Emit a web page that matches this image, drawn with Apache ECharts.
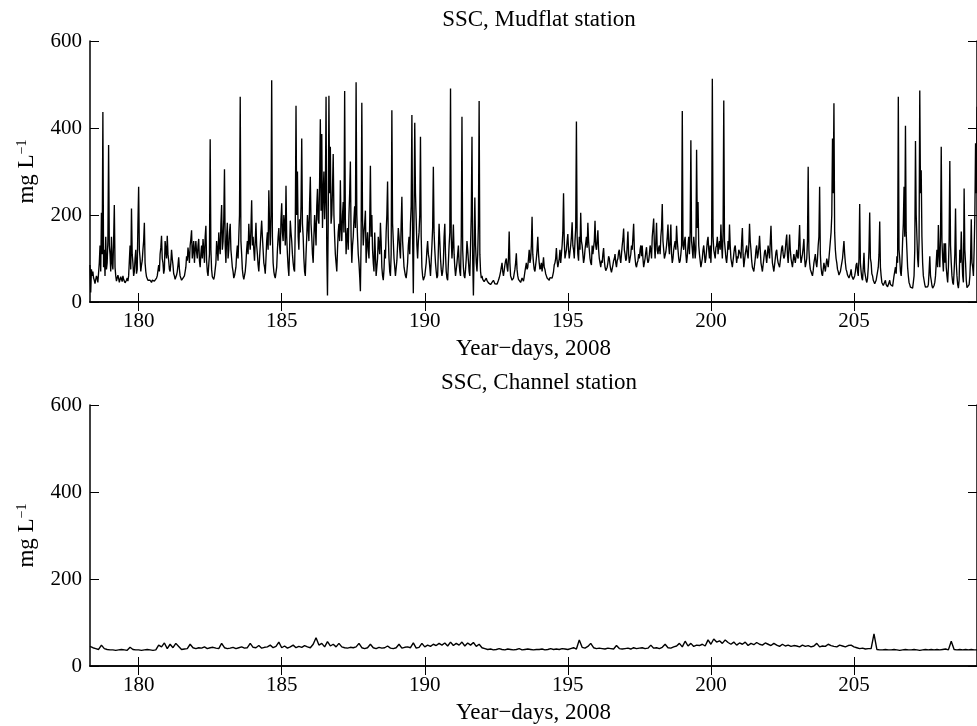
<!DOCTYPE html>
<html>
<head>
<meta charset="utf-8">
<script src="https://cdn.jsdelivr.net/npm/echarts@6/dist/echarts.min.js"></script>
<style>
html,body{margin:0;padding:0;background:#fff;}
#chart{width:977px;height:726px;}
</style>
</head>
<body>
<div id="chart"></div>
<script>
// ---- data ----
const xTicks = [180, 185, 190, 195, 200, 205];
const yTicks = [0, 200, 400, 600];
const dayMin = 178.3, dayMax = 209.3;

// Mudflat SSC (mg/L), sampled every 0.025 day from day 178.300
const mudStart = 178.30, mudStep = 0.025;
const mudflatSSC = [
// 178.300-178.975
85,22,75,60,70,55,50,42,45,60,55,45,48,90,130,70,205,110,437,80,120,60,150,75,90,140,361,130,
// 179
110,70,150,90,75,140,223,80,60,48,50,62,55,45,48,58,52,47,60,52,50,44,45,50,55,48,60,95,130,75,215,110,90,60,70,100,120,65,75,180,
// 180
265,120,100,70,85,95,120,140,182,90,70,58,55,50,48,53,50,46,45,50,52,47,48,52,50,55,60,72,85,70,110,125,152,100,90,65,75,140,120,100,
// 181
152,110,95,75,70,90,120,100,85,65,60,52,55,62,70,85,103,75,60,55,50,48,55,52,60,70,80,105,95,125,110,90,130,145,165,100,120,140,90,120,
// 182
140,115,100,130,145,95,80,110,130,100,145,120,90,150,175,95,70,60,60,110,374,120,75,58,55,52,60,75,90,140,120,95,160,130,110,180,223,120,140,190,
// 183
305,130,90,150,182,100,120,160,180,120,100,80,70,55,60,70,80,110,130,100,150,200,472,140,110,75,60,52,55,70,90,120,140,110,180,140,120,170,234,130,
// 184
150,120,95,140,182,130,110,85,70,100,130,160,187,150,120,90,80,65,100,140,160,120,257,180,130,200,510,150,90,70,60,55,55,80,120,150,170,130,110,190,
// 185
227,160,140,200,180,130,267,150,110,80,60,120,187,160,140,110,90,75,70,180,451,200,300,150,120,190,160,220,376,180,150,100,70,60,110,150,200,170,140,230,
// 186
288,180,150,110,90,150,200,170,130,220,260,190,180,280,420,210,386,170,250,300,190,240,472,120,15,180,474,250,357,180,200,260,340,200,150,110,90,70,120,160,
// 187
180,140,280,170,140,200,230,160,485,190,110,150,170,120,200,250,323,150,90,130,150,190,220,170,505,200,150,110,90,60,25,140,458,190,130,160,180,210,90,130,
// 188
160,120,100,180,313,150,200,120,90,70,160,110,60,80,100,150,130,110,182,140,80,60,50,75,120,100,160,200,277,150,100,70,60,110,441,180,140,100,80,60,
// 189
60,95,130,170,150,120,100,180,242,140,110,80,70,60,55,70,90,130,150,110,180,220,430,150,20,200,412,250,190,130,100,140,160,200,380,150,80,60,50,55,
// 190
60,75,90,120,140,110,100,80,60,95,130,170,311,160,120,90,70,55,60,120,180,140,100,75,60,70,90,150,180,110,70,55,50,90,130,160,491,150,100,130,
// 191
178,110,80,60,60,90,110,130,90,70,60,150,426,120,80,60,55,75,100,140,120,95,70,60,60,200,380,100,15,120,240,130,90,70,110,180,462,110,70,55,
// 192
60,52,50,47,45,50,55,49,48,44,42,41,40,43,45,48,50,46,42,40,38,41,45,50,55,62,70,80,90,70,60,72,85,95,100,80,70,100,162,90,
// 193
60,55,50,52,55,65,75,90,112,75,60,52,50,48,45,50,55,52,48,58,70,80,90,75,80,100,120,90,100,130,196,110,90,75,70,85,100,120,150,110,
// 194
90,75,80,90,70,85,103,80,75,65,60,55,55,52,50,56,60,58,55,62,70,85,90,100,124,95,80,90,100,120,90,110,130,160,250,140,100,110,120,140,
// 195
156,120,100,115,130,150,183,130,120,100,140,170,415,150,110,95,150,120,205,140,130,110,90,100,120,135,150,125,182,140,120,100,90,85,130,110,110,140,187,130,
// 196
120,140,165,120,100,90,80,95,90,110,124,95,80,72,70,80,90,105,100,85,75,68,70,85,95,100,110,90,80,95,100,115,120,100,90,110,130,145,169,120,
// 197
110,95,100,130,162,110,90,100,110,130,120,150,180,120,100,85,80,90,95,110,100,120,130,105,130,100,80,90,100,115,126,100,90,95,110,130,120,100,150,170,
// 198
192,130,100,140,182,120,110,125,130,110,150,170,225,140,120,100,100,115,130,150,178,130,110,140,178,110,90,100,120,130,140,120,175,140,120,100,90,95,110,130,
// 199
439,130,120,140,150,110,90,105,130,150,110,160,372,140,120,100,150,130,100,120,350,170,230,130,110,95,80,90,100,120,130,110,90,100,120,140,150,120,100,130,
// 200
90,140,513,150,120,110,100,125,130,150,110,130,140,120,178,130,100,160,463,140,120,100,90,110,140,120,178,130,100,90,80,95,110,125,130,110,90,105,100,120,
// 201
120,110,100,140,170,110,80,95,110,120,130,110,100,130,180,140,120,95,80,75,70,85,100,120,130,100,110,125,152,120,90,80,70,85,100,115,120,105,90,110,
// 202
130,115,100,140,175,120,90,80,70,85,100,115,120,100,90,85,80,95,110,125,130,110,100,105,120,140,155,110,90,120,155,120,100,90,80,95,110,100,90,105,
// 203
120,105,100,140,177,110,90,100,110,125,145,100,80,90,100,140,311,120,90,75,70,65,60,72,90,100,110,90,80,100,130,150,265,110,80,65,60,75,90,80,
// 204
70,85,100,90,80,100,120,140,160,200,376,250,457,160,120,100,90,75,70,62,60,70,80,90,100,120,140,110,90,75,70,62,60,55,55,65,75,60,60,52,
// 205
50,60,70,85,90,70,60,100,225,90,70,55,50,80,113,70,60,50,45,55,80,120,206,100,90,65,60,50,50,42,45,50,60,70,80,110,185,80,60,45,
// 206
45,38,35,42,50,40,40,35,34,45,50,40,42,36,36,48,60,70,80,65,105,90,472,120,100,70,60,90,140,180,265,150,405,160,120,80,60,45,40,34,
// 207
36,33,32,45,60,120,370,200,150,100,80,140,486,250,303,150,90,60,50,40,34,32,31,35,40,70,105,60,50,38,32,35,38,45,60,90,120,80,177,110,
// 208
80,150,357,140,100,70,135,90,135,80,60,45,80,140,324,130,90,60,45,40,70,110,215,90,60,40,32,50,120,90,162,100,60,45,261,120,90,50,33,31,
// 209.000-209.300
32,40,60,100,190,90,80,60,120,200,365,250,449
];

// Channel SSC (mg/L), sampled every 0.1 day from day 178.3
const chStart = 178.3, chStep = 0.1;
const channelSSC = [
// 178.3-178.9
45,42,40,38,48,40,38,
// 179
37,37,36,37,38,37,36,43,38,37,
// 180
37,36,37,38,37,36,37,48,44,53,
// 181
40,50,42,52,45,38,39,40,50,42,
// 182
40,42,41,44,40,42,43,41,40,52,
// 183
42,40,41,43,40,42,44,41,42,52,
// 184
43,42,47,41,43,44,48,42,45,55,
// 185
42,46,41,44,48,42,45,43,47,44,
// 186
42,50,65,48,52,44,56,46,50,44,
// 187
52,44,42,41,43,42,44,52,42,40,
// 188
42,50,42,40,43,41,42,46,41,40,
// 189
42,50,41,43,44,42,53,41,43,52,
// 190
44,48,45,50,47,52,48,53,46,55,
// 191
47,52,48,55,46,53,48,54,45,50,
// 192
42,40,38,39,37,38,40,38,37,39,
// 193
38,37,38,40,37,38,39,38,37,38,
// 194
38,39,37,38,40,38,39,38,40,39,
// 195
38,40,42,39,60,43,41,45,52,42,
// 196
40,41,40,39,41,40,39,47,40,39,
// 197
40,41,39,42,40,41,42,40,41,48,
// 198
41,42,40,43,50,42,41,44,46,52,
// 199
44,57,46,52,45,48,47,50,46,60,
// 200
50,62,55,58,52,60,54,50,55,48,
// 201
53,50,55,47,52,49,54,50,48,53,
// 202
50,47,52,48,45,50,46,48,45,47,
// 203
46,44,48,45,47,44,46,52,44,46,
// 204
45,50,47,45,44,48,46,44,47,48,
// 205
44,42,40,41,39,40,40,74,38,37,
// 206
37,38,37,37,38,37,36,37,38,37,
// 207
37,38,37,36,37,38,37,38,37,38,
// 208
37,38,39,37,57,38,37,38,37,38,
// 209.0-209.3
37,38,37,37
];

// ---- chart ----
const FONT = 'Liberation Serif';
const pairs = (start, step, vals) => vals.map((v, i) => [+(start + i * step).toFixed(4), v]);

const txt = (size) => ({ fontFamily: FONT, fontSize: size, color: '#000', fontWeight: 'normal' });
const axisLine = { show: true, lineStyle: { color: '#000', width: 1.5 } };

function xAxes(g) {
  return [
    {
      gridIndex: g, type: 'value', min: dayMin, max: dayMax, position: 'bottom',
      axisLine: axisLine,
      axisTick: { show: true, inside: true, length: 9, customValues: xTicks, lineStyle: { color: '#000', width: 1 } },
      axisLabel: Object.assign({ show: true, margin: 9, customValues: xTicks }, txt(21)),
      splitLine: { show: false },
      name: 'Year\u2212days, 2008', nameLocation: 'middle', nameGap: 35,
      nameTextStyle: txt(23)
    },
    {
      gridIndex: g, type: 'value', min: dayMin, max: dayMax, position: 'top',
      axisLine: axisLine,
      axisTick: { show: true, inside: true, length: 9, customValues: xTicks, lineStyle: { color: '#000', width: 1 } },
      axisLabel: { show: false },
      splitLine: { show: false }
    }
  ];
}
function yAxes(g) {
  return [
    {
      gridIndex: g, type: 'value', min: 0, max: 600, interval: 200, position: 'left',
      axisLine: axisLine,
      axisTick: { show: true, inside: true, length: 9, lineStyle: { color: '#000', width: 1 } },
      axisLabel: Object.assign({ margin: 8, customValues: yTicks }, txt(21)),
      splitLine: { show: false },
      name: 'mg L{sup|\u22121}', nameLocation: 'middle', nameGap: 52, nameRotate: 90,
      nameTextStyle: Object.assign(txt(23), {
        rich: { sup: { fontFamily: FONT, fontSize: 14, color: '#000', verticalAlign: 'top', padding: [0, 0, 9, 0] } }
      })
    },
    {
      gridIndex: g, type: 'value', min: 0, max: 600, interval: 200, position: 'right',
      axisLine: axisLine,
      axisTick: { show: true, inside: true, length: 9, lineStyle: { color: '#000', width: 1 } },
      axisLabel: { show: false },
      splitLine: { show: false }
    }
  ];
}

const option = {
  animation: false,
  backgroundColor: '#fff',
  title: [
    { text: 'SSC, Mudflat station', left: 534, top: 3, textAlign: 'center', textStyle: txt(23) },
    { text: 'SSC, Channel station', left: 534, top: 366, textAlign: 'center', textStyle: txt(23) }
  ],
  grid: [
    { left: 90, top: 41, width: 887, height: 261, containLabel: false },
    { left: 90, top: 405, width: 887, height: 261, containLabel: false }
  ],
  xAxis: [...xAxes(0), ...xAxes(1)],
  yAxis: [...yAxes(0), ...yAxes(1)],
  series: [
    {
      type: 'line', xAxisIndex: 0, yAxisIndex: 0, showSymbol: false, symbol: 'none',
      data: pairs(mudStart, mudStep, mudflatSSC),
      lineStyle: { color: '#000', width: 1.35 }, sampling: null, clip: true
    },
    {
      type: 'line', xAxisIndex: 2, yAxisIndex: 2, showSymbol: false, symbol: 'none',
      data: pairs(chStart, chStep, channelSSC),
      lineStyle: { color: '#000', width: 1.4 }, sampling: null, clip: true
    }
  ]
};

const chart = echarts.init(document.getElementById('chart'), null, { renderer: 'canvas' });
chart.setOption(option);
</script>
</body>
</html>
